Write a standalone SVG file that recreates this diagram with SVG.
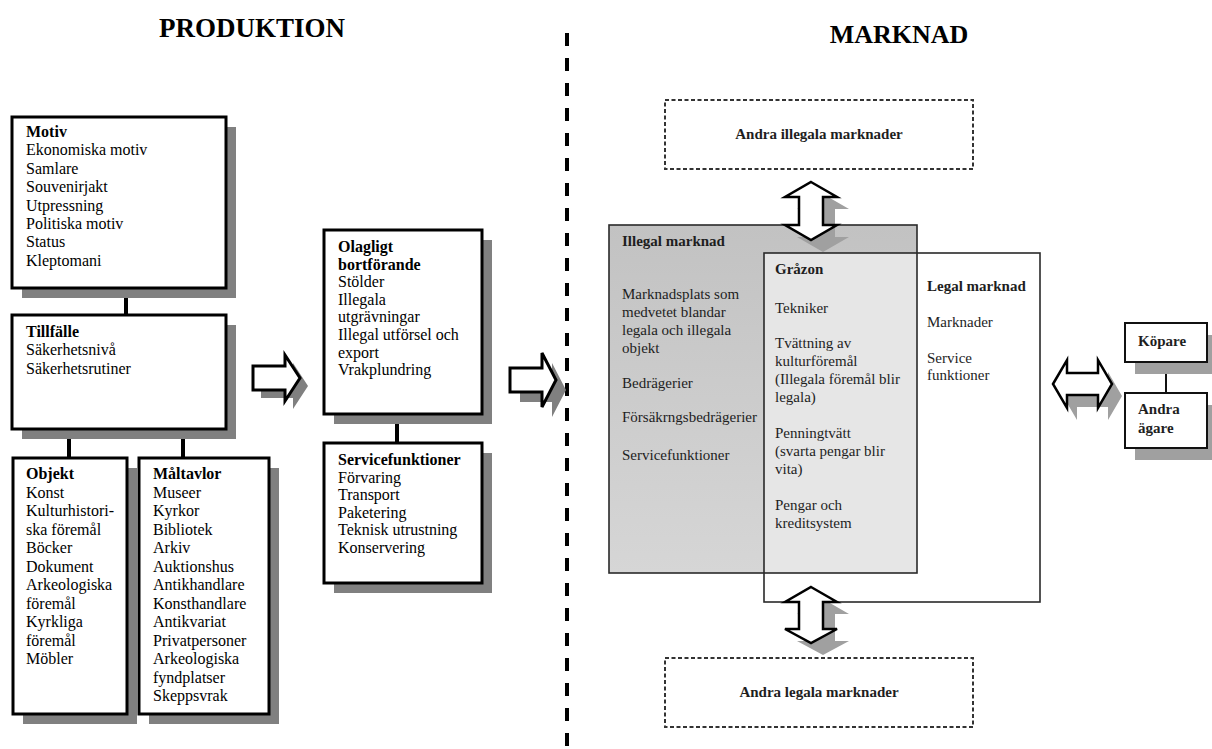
<svg xmlns="http://www.w3.org/2000/svg" width="1212" height="749" viewBox="0 0 1212 749">
<defs>
<style>
.t{font-family:"Liberation Serif","Times New Roman",serif;font-size:16px;fill:#000}
.m{font-family:"Liberation Serif","Times New Roman",serif;font-size:15px;fill:#1e1e1e}
.b{font-weight:bold}
.box{fill:#fff;stroke:#000;stroke-width:3}
.sh{fill:#808080}
.sh2{fill:#a0a0a0}
.sbox{fill:#fff;stroke:#111;stroke-width:2}
.con{stroke:#000;stroke-width:4;fill:none}
.arr{fill:#fff;stroke:#000;stroke-width:3;stroke-linejoin:miter}
.arr2{fill:#fff;stroke:#000;stroke-width:2.5;stroke-linejoin:miter}
.mk{stroke:#2a2a2a;stroke-width:1.6;fill:none}
.dsh{fill:#fff;stroke:#333;stroke-width:2;stroke-dasharray:4 2.5}
.title{font-family:"Liberation Serif","Times New Roman",serif;font-weight:bold;fill:#000}
</style>
<linearGradient id="ill" x1="0" y1="0" x2="0" y2="1">
<stop offset="0" stop-color="#c2c2c2"/>
<stop offset="1" stop-color="#d6d6d6"/>
</linearGradient>
</defs>
<rect width="1212" height="749" fill="#fff"/>

<g id="titles">
<text class="title" x="252" y="37" font-size="27" text-anchor="middle">PRODUKTION</text>
<text class="title" x="899" y="43" font-size="26" text-anchor="middle">MARKNAD</text>
</g>

<g id="divider">
<line x1="567" y1="33" x2="567" y2="749" stroke="#000" stroke-width="4" stroke-dasharray="13 12"/>
</g>

<g id="connectors">
<line class="con" x1="126" y1="288" x2="126" y2="315"/>
<line class="con" x1="69" y1="429" x2="69" y2="458"/>
<line class="con" x1="183" y1="429" x2="183" y2="458"/>
<line class="con" x1="397" y1="414" x2="397" y2="443"/>
<line x1="1166" y1="362" x2="1166" y2="393" stroke="#111" stroke-width="2"/>
<path class="sh" d="M261,374 H293 V363 L308,386 L293,409 V398 H261 Z"/>
<path class="arr" d="M253,366 H285 V355 L300,378 L285,401 V390 H253 Z"/>
<path class="sh" d="M520,378 H552 V363 L566,390 L552,417 V402 H520 Z"/>
<path class="arr" d="M510,368 H542 V353 L556,380 L542,407 V392 H510 Z"/>
</g>

<g id="motiv">
<rect class="sh" x="22" y="127" width="214" height="171"/>
<rect class="box" x="12" y="117" width="214" height="171"/>
<text class="t"><tspan class="b" x="26" y="137">Motiv</tspan><tspan x="26" y="155.4">Ekonomiska motiv</tspan><tspan x="26" y="173.8">Samlare</tspan><tspan x="26" y="192.2">Souvenirjakt</tspan><tspan x="26" y="210.6">Utpressning</tspan><tspan x="26" y="229">Politiska motiv</tspan><tspan x="26" y="247.4">Status</tspan><tspan x="26" y="265.8">Kleptomani</tspan></text>
</g>

<g id="tillfalle">
<rect class="sh" x="22" y="325" width="214" height="114"/>
<rect class="box" x="12" y="315" width="214" height="114"/>
<text class="t"><tspan class="b" x="26" y="337">Tillfälle</tspan><tspan x="26" y="355.4">Säkerhetsnivå</tspan><tspan x="26" y="373.8">Säkerhetsrutiner</tspan></text>
</g>

<g id="objekt">
<rect class="sh" x="23" y="468" width="114" height="256"/>
<rect class="box" x="13" y="458" width="114" height="256"/>
<text class="t"><tspan class="b" x="26" y="479">Objekt</tspan><tspan x="26" y="497.5">Konst</tspan><tspan x="26" y="516">Kulturhistori-</tspan><tspan x="26" y="534.5">ska föremål</tspan><tspan x="26" y="553">Böcker</tspan><tspan x="26" y="571.5">Dokument</tspan><tspan x="26" y="590">Arkeologiska</tspan><tspan x="26" y="608.5">föremål</tspan><tspan x="26" y="627">Kyrkliga</tspan><tspan x="26" y="645.5">föremål</tspan><tspan x="26" y="664">Möbler</tspan></text>
</g>

<g id="maltavlor">
<rect class="sh" x="149" y="468" width="130" height="256"/>
<rect class="box" x="139" y="458" width="130" height="256"/>
<text class="t"><tspan class="b" x="153" y="479">Måltavlor</tspan><tspan x="153" y="497.5">Museer</tspan><tspan x="153" y="516">Kyrkor</tspan><tspan x="153" y="534.5">Bibliotek</tspan><tspan x="153" y="553">Arkiv</tspan><tspan x="153" y="571.5">Auktionshus</tspan><tspan x="153" y="590">Antikhandlare</tspan><tspan x="153" y="608.5">Konsthandlare</tspan><tspan x="153" y="627">Antikvariat</tspan><tspan x="153" y="645.5">Privatpersoner</tspan><tspan x="153" y="664">Arkeologiska</tspan><tspan x="153" y="682.5">fyndplatser</tspan><tspan x="153" y="701">Skeppsvrak</tspan></text>
</g>

<g id="olagligt">
<rect class="sh" x="334" y="240" width="158" height="184"/>
<rect class="box" x="324" y="230" width="158" height="184"/>
<text class="t"><tspan class="b" x="338" y="252">Olagligt</tspan><tspan class="b" x="338" y="269.6">bortförande</tspan><tspan x="338" y="287.2">Stölder</tspan><tspan x="338" y="304.8">Illegala</tspan><tspan x="338" y="322.4">utgrävningar</tspan><tspan x="338" y="340">Illegal utförsel och</tspan><tspan x="338" y="357.6">export</tspan><tspan x="338" y="375.2">Vrakplundring</tspan></text>
</g>

<g id="servicefunktioner">
<rect class="sh" x="334" y="453" width="158" height="140"/>
<rect class="box" x="324" y="443" width="158" height="140"/>
<text class="t"><tspan class="b" x="338" y="465">Servicefunktioner</tspan><tspan x="338" y="482.5">Förvaring</tspan><tspan x="338" y="500">Transport</tspan><tspan x="338" y="517.5">Paketering</tspan><tspan x="338" y="535">Teknisk utrustning</tspan><tspan x="338" y="552.5">Konservering</tspan></text>
</g>

<g id="andra-illegala">
<rect class="dsh" x="665" y="100" width="308" height="69"/>
<text class="m b" x="819" y="139" text-anchor="middle">Andra illegala marknader</text>
</g>

<g id="andra-legala">
<rect class="dsh" x="665" y="658" width="308" height="69"/>
<text class="m b" x="819" y="697" text-anchor="middle">Andra legala marknader</text>
</g>

<g id="marknader">
<rect x="764" y="253" width="276" height="349" fill="#fff"/>
<rect x="609" y="225" width="308" height="348" fill="url(#ill)"/>
<rect x="764" y="253" width="153" height="320" fill="#e6e6e6"/>
<rect class="mk" x="764" y="253" width="276" height="349"/>
<rect class="mk" x="609" y="225" width="308" height="348"/>
</g>

<g id="illegal-marknad">
<text class="m"><tspan class="b" x="622" y="246">Illegal marknad</tspan><tspan x="622" y="299">Marknadsplats som</tspan><tspan x="622" y="317">medvetet blandar</tspan><tspan x="622" y="335">legala och illegala</tspan><tspan x="622" y="353">objekt</tspan><tspan x="622" y="388">Bedrägerier</tspan><tspan x="622" y="422">Försäkrngsbedrägerier</tspan><tspan x="622" y="460">Servicefunktioner</tspan></text>
</g>

<g id="grazon">
<text class="m"><tspan class="b" x="775" y="274">Gråzon</tspan><tspan x="775" y="313">Tekniker</tspan><tspan x="775" y="348">Tvättning av</tspan><tspan x="775" y="366">kulturföremål</tspan><tspan x="775" y="384">(Illegala föremål blir</tspan><tspan x="775" y="402">legala)</tspan><tspan x="775" y="438">Penningtvätt</tspan><tspan x="775" y="456">(svarta pengar blir</tspan><tspan x="775" y="474">vita)</tspan><tspan x="775" y="510">Pengar och</tspan><tspan x="775" y="528">kreditsystem</tspan></text>
</g>

<g id="legal-marknad">
<text class="m"><tspan class="b" x="927" y="291">Legal marknad</tspan><tspan x="927" y="327">Marknader</tspan><tspan x="927" y="363">Service</tspan><tspan x="927" y="380">funktioner</tspan></text>
</g>

<g id="market-arrows">
<path class="sh2" d="M823,194 L849,209 H835 V237 H849 L823,252 L797,237 H811 V209 H797 Z"/>
<path class="arr2" d="M811,182 L837,197 H823 V225 H837 L811,240 L785,225 H799 V197 H785 Z"/>
<path class="sh2" d="M823,599 L849,614 H835 V641 H849 L823,655 L797,641 H811 V614 H797 Z"/>
<path class="arr2" d="M811,587 L837,602 H823 V629 H837 L811,643 L785,629 H799 V602 H785 Z"/>
<path class="sh2" d="M1063,396 L1077,372 V385 H1108 V372 L1122,396 L1108,420 V407 H1077 V420 Z"/>
<path class="arr2" d="M1053,384 L1067,360 V373 H1098 V360 L1112,384 L1098,408 V395 H1067 V408 Z"/>
</g>

<g id="kopare">
<rect class="sh2" x="1135" y="335" width="82" height="39"/>
<rect class="sbox" x="1125" y="323" width="82" height="39"/>
<text class="m b" x="1138" y="346">Köpare</text>
</g>

<g id="andra-agare">
<rect class="sh2" x="1135" y="405" width="82" height="55"/>
<rect class="sbox" x="1125" y="393" width="82" height="55"/>
<text class="m b"><tspan x="1138" y="414">Andra</tspan><tspan x="1138" y="433">ägare</tspan></text>
</g>
</svg>
